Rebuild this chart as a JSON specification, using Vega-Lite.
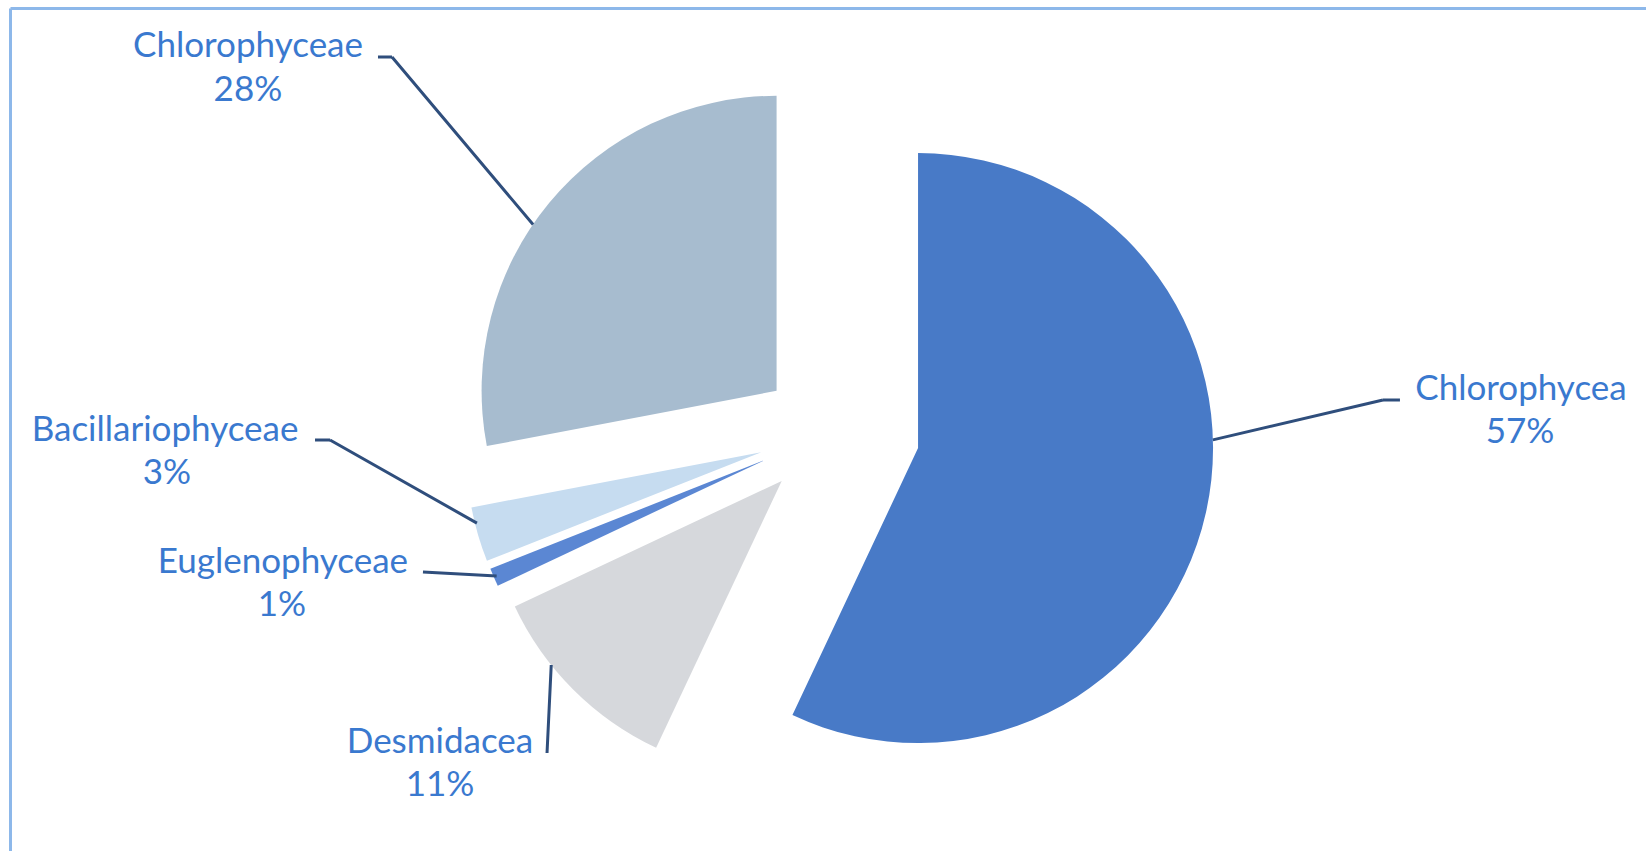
{
  "$schema": "https://vega.github.io/schema/vega-lite/v6.json",
  "width": 1636,
  "height": 843,
  "autosize": {"type": "none"},
  "padding": {"left": 10, "top": 8, "right": 0, "bottom": 0},
  "background": "white",
  "config": {
    "view": {"stroke": null},
    "text": {"font": "Lato", "fontSize": 35, "fill": "#3a79cf", "align": "center", "baseline": "middle"},
    "arc": {"stroke": null}
  },
  "data": {
    "values": [
      {"category": "Chlorophycea", "value": 0.57, "order": 1},
      {"category": "Desmidacea", "value": 0.11, "order": 2},
      {"category": "Euglenophyceae", "value": 0.01, "order": 3},
      {"category": "Bacillariophyceae", "value": 0.03, "order": 4},
      {"category": "Chlorophyceae", "value": 0.28, "order": 5}
    ]
  },
  "transform": [
    {"stack": "value", "groupby": [], "sort": [{"field": "order", "order": "ascending"}], "as": ["v0", "v1"]}
  ],
  "layer": [
    {
      "mark": {"type": "point", "opacity": 0},
      "encoding": {
        "x": {"datum": 0, "type": "quantitative", "scale": {"domain": [0, 1]},
              "axis": {"orient": "top", "domain": true, "domainColor": "#8db8ea", "domainWidth": 3, "ticks": false, "labels": false, "grid": false, "title": null}},
        "y": {"datum": 0, "type": "quantitative", "scale": {"domain": [0, 1]},
              "axis": {"orient": "left", "domain": true, "domainColor": "#8db8ea", "domainWidth": 3, "ticks": false, "labels": false, "grid": false, "title": null}}
      }
    },
    {
      "mark": {
        "type": "arc", "outerRadius": 295,
        "xOffset": {"expr": "11 + 81 * sin(PI * (datum.v0 + datum.v1))"},
        "yOffset": {"expr": "4 - 67 * cos(PI * (datum.v0 + datum.v1))"}
      },
      "encoding": {
        "theta": {"field": "v0", "type": "quantitative", "scale": {"domain": [0, 1]}},
        "theta2": {"field": "v1"},
        "color": {
          "field": "category", "type": "nominal", "legend": null,
          "scale": {
            "domain": ["Chlorophycea", "Desmidacea", "Euglenophyceae", "Bacillariophyceae", "Chlorophyceae"],
            "range": ["#487ac7", "#d6d8dc", "#5b87d3", "#c6dcf0", "#a7bccf"]
          }
        }
      }
    },
    {
      "transform": [{"filter": "datum.category === 'Chlorophycea'"}],
      "layer": [
        {"mark": {"type": "arc", "theta": 4.482, "theta2": 4.482, "innerRadius": 0, "outerRadius": 174.7, "fill": null, "stroke": "#2f4e7c", "strokeWidth": 3,
                  "xOffset": {"expr": "11 + 81 * sin(PI * (datum.v0 + datum.v1)) + 464.9"}, "yOffset": {"expr": "4 - 67 * cos(PI * (datum.v0 + datum.v1)) - 48.1"}}, "encoding": {}},
        {"mark": {"type": "arc", "theta": 1.5708, "theta2": 1.5708, "innerRadius": 0, "outerRadius": 17, "fill": null, "stroke": "#2f4e7c", "strokeWidth": 3,
                  "xOffset": {"expr": "11 + 81 * sin(PI * (datum.v0 + datum.v1)) + 464.9"}, "yOffset": {"expr": "4 - 67 * cos(PI * (datum.v0 + datum.v1)) - 48.1"}}, "encoding": {}},
        {"mark": {"type": "text", "theta": 1.4748, "radius": 605.7, "dy": -1.5,
                  "xOffset": {"expr": "11 + 81 * sin(PI * (datum.v0 + datum.v1))"}, "yOffset": {"expr": "4 - 67 * cos(PI * (datum.v0 + datum.v1))"}},
         "encoding": {"text": {"field": "category", "type": "nominal"}}},
        {"mark": {"type": "text", "theta": 1.5408, "radius": 602.2, "dy": 1.5,
                  "xOffset": {"expr": "11 + 81 * sin(PI * (datum.v0 + datum.v1))"}, "yOffset": {"expr": "4 - 67 * cos(PI * (datum.v0 + datum.v1))"}},
         "encoding": {"text": {"field": "value", "type": "quantitative", "format": ".0%"}}}
      ]
    },
    {
      "transform": [{"filter": "datum.category === 'Chlorophyceae'"}],
      "layer": [
        {"mark": {"type": "arc", "theta": 2.4417, "theta2": 2.4417, "innerRadius": 0, "outerRadius": 219, "fill": null, "stroke": "#2f4e7c", "strokeWidth": 3,
                  "xOffset": {"expr": "11 + 81 * sin(PI * (datum.v0 + datum.v1)) - 384.6"}, "yOffset": {"expr": "4 - 67 * cos(PI * (datum.v0 + datum.v1)) - 333.8"}}, "encoding": {}},
        {"mark": {"type": "arc", "theta": 4.7124, "theta2": 4.7124, "innerRadius": 0, "outerRadius": 14, "fill": null, "stroke": "#2f4e7c", "strokeWidth": 3,
                  "xOffset": {"expr": "11 + 81 * sin(PI * (datum.v0 + datum.v1)) - 384.6"}, "yOffset": {"expr": "4 - 67 * cos(PI * (datum.v0 + datum.v1)) - 333.8"}}, "encoding": {}},
        {"mark": {"type": "text", "theta": 5.2878, "radius": 630, "dy": -1.5,
                  "xOffset": {"expr": "11 + 81 * sin(PI * (datum.v0 + datum.v1))"}, "yOffset": {"expr": "4 - 67 * cos(PI * (datum.v0 + datum.v1))"}},
         "encoding": {"text": {"field": "category", "type": "nominal"}}},
        {"mark": {"type": "text", "theta": 5.2325, "radius": 609.2, "dy": 1.5,
                  "xOffset": {"expr": "11 + 81 * sin(PI * (datum.v0 + datum.v1))"}, "yOffset": {"expr": "4 - 67 * cos(PI * (datum.v0 + datum.v1))"}},
         "encoding": {"text": {"field": "value", "type": "quantitative", "format": ".0%"}}}
      ]
    },
    {
      "transform": [{"filter": "datum.category === 'Bacillariophyceae'"}],
      "layer": [
        {"mark": {"type": "arc", "theta": 2.0857, "theta2": 2.0857, "innerRadius": 0, "outerRadius": 168.8, "fill": null, "stroke": "#2f4e7c", "strokeWidth": 3,
                  "xOffset": {"expr": "11 + 81 * sin(PI * (datum.v0 + datum.v1)) - 431.2"}, "yOffset": {"expr": "4 - 67 * cos(PI * (datum.v0 + datum.v1)) - 12.2"}}, "encoding": {}},
        {"mark": {"type": "arc", "theta": 4.7124, "theta2": 4.7124, "innerRadius": 0, "outerRadius": 15, "fill": null, "stroke": "#2f4e7c", "strokeWidth": 3,
                  "xOffset": {"expr": "11 + 81 * sin(PI * (datum.v0 + datum.v1)) - 431.2"}, "yOffset": {"expr": "4 - 67 * cos(PI * (datum.v0 + datum.v1)) - 12.2"}}, "encoding": {}},
        {"mark": {"type": "text", "theta": 4.7462, "radius": 596.5, "dy": -2.5,
                  "xOffset": {"expr": "11 + 81 * sin(PI * (datum.v0 + datum.v1))"}, "yOffset": {"expr": "4 - 67 * cos(PI * (datum.v0 + datum.v1))"}},
         "encoding": {"text": {"field": "category", "type": "nominal"}}},
        {"mark": {"type": "text", "theta": 4.6824, "radius": 594.5, "dy": 2.5,
                  "xOffset": {"expr": "11 + 81 * sin(PI * (datum.v0 + datum.v1))"}, "yOffset": {"expr": "4 - 67 * cos(PI * (datum.v0 + datum.v1))"}},
         "encoding": {"text": {"field": "value", "type": "quantitative", "format": ".0%"}}}
      ]
    },
    {
      "transform": [{"filter": "datum.category === 'Euglenophyceae'"}],
      "layer": [
        {"mark": {"type": "arc", "theta": 1.6265, "theta2": 1.6265, "innerRadius": 0, "outerRadius": 73.8, "fill": null, "stroke": "#2f4e7c", "strokeWidth": 3,
                  "xOffset": {"expr": "11 + 81 * sin(PI * (datum.v0 + datum.v1)) - 341.7"}, "yOffset": {"expr": "4 - 67 * cos(PI * (datum.v0 + datum.v1)) + 111.9"}}, "encoding": {}},
        {"mark": {"type": "text", "theta": 4.4979, "radius": 493, "dy": -3,
                  "xOffset": {"expr": "11 + 81 * sin(PI * (datum.v0 + datum.v1))"}, "yOffset": {"expr": "4 - 67 * cos(PI * (datum.v0 + datum.v1))"}},
         "encoding": {"text": {"field": "category", "type": "nominal"}}},
        {"mark": {"type": "text", "theta": 4.4265, "radius": 503.1, "dy": 3,
                  "xOffset": {"expr": "11 + 81 * sin(PI * (datum.v0 + datum.v1))"}, "yOffset": {"expr": "4 - 67 * cos(PI * (datum.v0 + datum.v1))"}},
         "encoding": {"text": {"field": "value", "type": "quantitative", "format": ".0%"}}}
      ]
    },
    {
      "transform": [{"filter": "datum.category === 'Desmidacea'"}],
      "layer": [
        {"mark": {"type": "arc", "theta": 0.0477, "theta2": 0.0477, "innerRadius": 0, "outerRadius": 88.1, "fill": null, "stroke": "#2f4e7c", "strokeWidth": 3,
                  "xOffset": {"expr": "11 + 81 * sin(PI * (datum.v0 + datum.v1)) - 234.7"}, "yOffset": {"expr": "4 - 67 * cos(PI * (datum.v0 + datum.v1)) + 272.1"}}, "encoding": {}},
        {"mark": {"type": "text", "theta": 4.0544, "radius": 431.9, "dy": -2.5,
                  "xOffset": {"expr": "11 + 81 * sin(PI * (datum.v0 + datum.v1))"}, "yOffset": {"expr": "4 - 67 * cos(PI * (datum.v0 + datum.v1))"}},
         "encoding": {"text": {"field": "category", "type": "nominal"}}},
        {"mark": {"type": "text", "theta": 3.9884, "radius": 456.1, "dy": 2.5,
                  "xOffset": {"expr": "11 + 81 * sin(PI * (datum.v0 + datum.v1))"}, "yOffset": {"expr": "4 - 67 * cos(PI * (datum.v0 + datum.v1))"}},
         "encoding": {"text": {"field": "value", "type": "quantitative", "format": ".0%"}}}
      ]
    }
  ]
}
